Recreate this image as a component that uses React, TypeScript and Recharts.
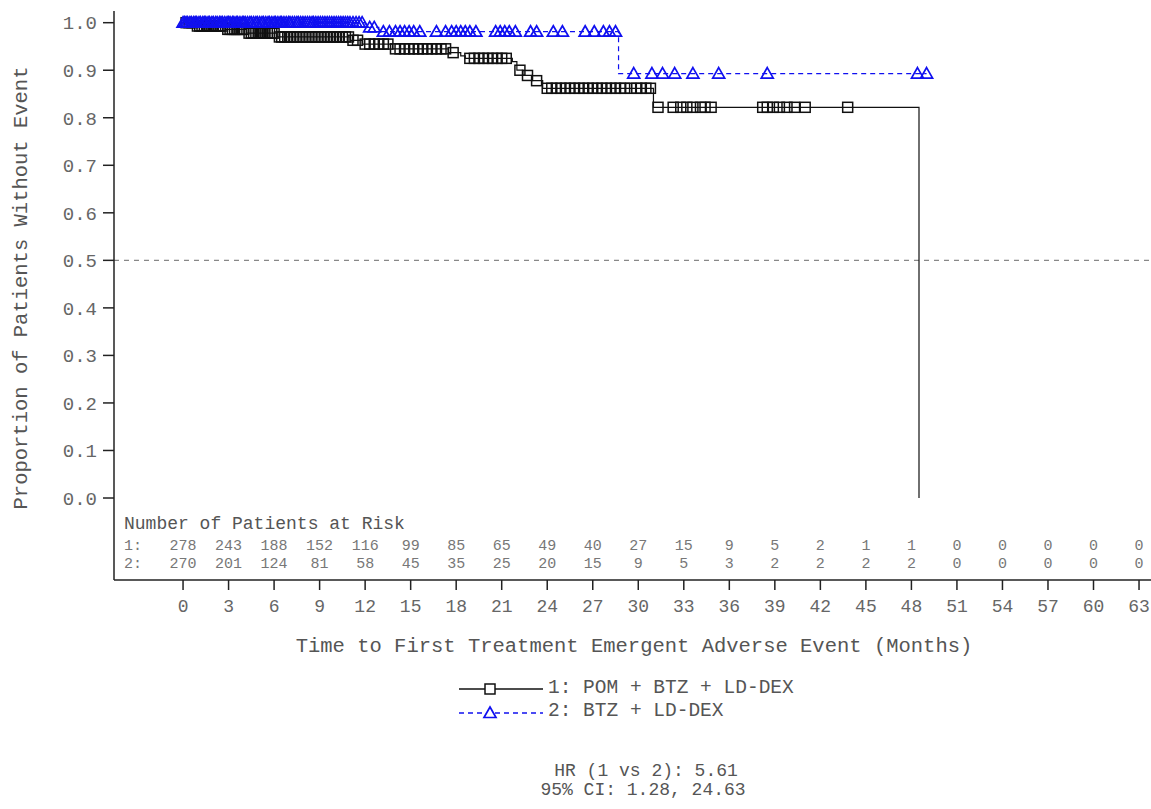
import { ComposedChart, Line, Scatter, XAxis, YAxis, ReferenceLine } from 'recharts';

// tick labels
const monthTicks = [0, 3, 6, 9, 12, 15, 18, 21, 24, 27, 30, 33, 36, 39, 42, 45, 48, 51, 54, 57, 60, 63];
const proportionTicks = [0, 0.1, 0.2, 0.3, 0.4, 0.5, 0.6, 0.7, 0.8, 0.9, 1.0];

// number of patients at risk at each month tick
const atRiskPom = [278, 243, 188, 152, 116, 99, 85, 65, 49, 40, 27, 15, 9, 5, 2, 1, 1, 0, 0, 0, 0, 0];
const atRiskBtz = [270, 201, 124, 81, 58, 45, 35, 25, 20, 15, 9, 5, 3, 2, 2, 2, 2, 0, 0, 0, 0, 0];

// 1: POM + BTZ + LD-DEX, event times and KM estimate after each
const pomTimes = [0, 0.8, 2.8, 4.2, 6.2, 11.0, 11.8, 13.8, 17.5, 18.3, 18.6, 21.7, 22.0, 22.4, 23.0, 23.7, 31.0, 48.5];
const pomSurvival = [1, 0.993, 0.986, 0.978, 0.97, 0.963, 0.955, 0.945, 0.937, 0.93, 0.925, 0.918, 0.9, 0.889, 0.878, 0.862, 0.822, 0];
const pomCensored = [
	0.2, 0.4, 0.6, 0.95, 1.1, 1.25, 1.4, 1.55, 1.7, 1.85, 2.0, 2.15, 2.3, 2.45, 2.6, 2.95, 3.1, 3.25, 3.4,
	3.55, 3.7, 3.85, 4.0, 4.35, 4.5, 4.65, 4.8, 4.95, 5.1, 5.25, 5.4, 5.55, 5.7, 5.85, 6.0, 6.35, 6.5, 6.7,
	6.9, 7.1, 7.3, 7.5, 7.7, 7.9, 8.1, 8.3, 8.5, 8.7, 8.9, 9.1, 9.3, 9.5, 9.7, 9.9, 10.1, 10.3, 10.5, 10.7,
	10.9, 11.2, 11.5, 12.0, 12.3, 12.6, 12.9, 13.2, 13.5, 14.0, 14.3, 14.6, 14.9, 15.2, 15.5, 15.8, 16.1,
	16.4, 16.7, 17.0, 17.3, 17.8, 18.9, 19.2, 19.5, 19.8, 20.1, 20.4, 20.7, 21.0, 21.3, 22.2, 22.7, 23.3,
	24.0, 24.3, 24.6, 24.9, 25.2, 25.5, 25.8, 26.1, 26.4, 26.7, 27.0, 27.3, 27.6, 27.9, 28.2, 28.5, 28.8,
	29.1, 29.5, 29.9, 30.2, 30.5, 30.8, 31.3, 32.3, 32.8, 33.2, 33.6, 34.1, 34.4, 34.8, 38.2, 38.5, 38.9,
	39.3, 39.8, 40.3, 41.0, 43.8,
];

// 2: BTZ + LD-DEX
const btzTimes = [0, 12.0, 12.9, 28.7];
const btzSurvival = [1, 0.99, 0.981, 0.893];
const btzCensored = [
	0.0, 0.1, 0.2, 0.3, 0.45, 0.55, 0.7, 0.8, 0.9, 1.05, 1.15, 1.3, 1.4, 1.5, 1.65, 1.75, 1.9, 2.0, 2.15,
	2.25, 2.4, 2.5, 2.6, 2.75, 2.9, 3.0, 3.1, 3.25, 3.35, 3.5, 3.6, 3.75, 3.9, 4.0, 4.1, 4.25, 4.4, 4.5,
	4.65, 4.8, 4.9, 5.05, 5.2, 5.3, 5.45, 5.6, 5.7, 5.85, 6.0, 6.1, 6.25, 6.4, 6.5, 6.65, 6.8, 6.95, 7.05,
	7.2, 7.35, 7.5, 7.6, 7.75, 7.9, 8.05, 8.2, 8.35, 8.5, 8.6, 8.75, 8.9, 9.05, 9.2, 9.35, 9.5, 9.65, 9.8,
	9.95, 10.1, 10.25, 10.4, 10.55, 10.7, 10.85, 11.0, 11.2, 11.4, 11.6, 11.8, 12.3, 12.6, 13.2, 13.6, 14.0,
	14.3, 14.6, 14.9, 15.2, 15.6, 16.7, 17.3, 17.7, 18.0, 18.3, 18.6, 18.9, 19.3, 20.6, 20.9, 21.2, 21.5,
	21.9, 22.9, 23.3, 24.4, 25.0, 26.5, 27.1, 27.7, 28.1, 28.5, 29.7, 30.9, 31.6, 32.4, 33.6, 35.3, 38.5,
	48.4, 49.0,
];

const survivalAt = (times: number[], values: number[], t: number) => {
	let s = values[0];
	times.forEach((tt, i) => {
		if (tt <= t) s = values[i];
	});
	return s;
};

const buildCurve = (times: number[], values: number[], censored: number[]) => {
	const pts = times.map((t, i) => ({ t, s: values[i], censored: false }));
	censored.forEach((t) => pts.push({ t, s: survivalAt(times, values, t), censored: true }));
	return pts.sort((a, b) => a.t - b.t);
};

const pomCurve = buildCurve(pomTimes, pomSurvival, pomCensored);
const btzCurve = buildCurve(btzTimes, btzSurvival, btzCensored);

const ROW1 = -0.101;
const ROW2 = -0.139;
const riskRows = [
	...monthTicks.map((t, i) => ({ t, y: ROW1, n: atRiskPom[i] })),
	...monthTicks.map((t, i) => ({ t, y: ROW2, n: atRiskBtz[i] })),
];

const FONT = '"Liberation Mono", "Courier New", monospace';
const TEXT = '#555';
const BLUE = '#1010f0';

const SquareDot = (p: any) =>
	p.payload.censored ? (
		<rect key={`sq-${p.index}`} x={p.cx - 5} y={p.cy - 5} width={10} height={10} fill='none' stroke='#111' strokeWidth={1.5} />
	) : (
		<g key={`sq-${p.index}`} />
	);

const TriangleDot = (p: any) =>
	p.payload.censored ? (
		<path
			key={`tr-${p.index}`}
			d={`M${p.cx},${p.cy - 6} L${p.cx + 6},${p.cy + 4.5} L${p.cx - 6},${p.cy + 4.5} Z`}
			fill='none'
			stroke={BLUE}
			strokeWidth={1.7}
		/>
	) : (
		<g key={`tr-${p.index}`} />
	);

const RiskNumber = (p: any) => (
	<text x={p.cx} y={p.cy} textAnchor='middle' dominantBaseline='central' fontFamily={FONT} fontSize={15} fill='#777'>
		{p.payload.n}
	</text>
);

const Txt = ({ x, y, size, children, anchor = 'left', color = TEXT }: any) => (
	<div
		style={{
			position: 'absolute',
			left: anchor === 'center' ? x - 400 : x,
			width: anchor === 'center' ? 800 : undefined,
			textAlign: anchor === 'center' ? 'center' : 'left',
			top: y - size / 2,
			fontSize: size,
			lineHeight: `${size}px`,
			fontFamily: FONT,
			color,
			whiteSpace: 'pre',
		}}
	>
		{children}
	</div>
);

const App = () => {
	return (
		<div style={{ position: 'absolute', left: 0, top: 0, width: 1151, height: 809, overflow: 'hidden', background: '#fff' }}>
			<ComposedChart width={1200} height={640} margin={{ top: 11, right: 20, bottom: 0, left: 0 }}>
				<XAxis
					xAxisId='top'
					orientation='top'
					type='number'
					dataKey='t'
					domain={[-4.55, 65.7]}
					height={0}
					tick={false}
					tickLine={false}
					axisLine={{ stroke: '#222', strokeWidth: 1.5 }}
				/>
				<XAxis
					type='number'
					dataKey='t'
					domain={[-4.55, 65.7]}
					allowDataOverflow
					ticks={monthTicks}
					interval={0}
					height={60}
					tickSize={10}
					tickMargin={9}
					tick={{ fontFamily: FONT, fontSize: 18, fill: '#666' }}
					tickLine={{ stroke: '#222', strokeWidth: 1.5 }}
					axisLine={{ stroke: '#222', strokeWidth: 1.5 }}
				/>
				<YAxis
					type='number'
					domain={[-0.1725, 1.0246]}
					allowDataOverflow
					ticks={proportionTicks}
					interval={0}
					width={114}
					tickSize={11}
					tickMargin={6}
					tickFormatter={(v: number) => v.toFixed(1)}
					tick={{ fontFamily: FONT, fontSize: 19, fill: '#666' }}
					tickLine={{ stroke: '#222', strokeWidth: 1.5 }}
					axisLine={{ stroke: '#222', strokeWidth: 1.5 }}
				/>
				<ReferenceLine y={0.5} stroke='#888' strokeDasharray='5 5' strokeWidth={1.2} />
				<Line
					data={pomCurve}
					dataKey='s'
					type='stepAfter'
					stroke='#111'
					strokeWidth={1.2}
					dot={SquareDot}
					activeDot={false}
					isAnimationActive={false}
				/>
				<Line
					data={btzCurve}
					dataKey='s'
					type='stepAfter'
					stroke={BLUE}
					strokeWidth={1.2}
					strokeDasharray='5 4'
					dot={TriangleDot}
					activeDot={false}
					isAnimationActive={false}
				/>
				<Scatter data={riskRows} dataKey='y' shape={RiskNumber} isAnimationActive={false} />
			</ComposedChart>

			<div
				style={{
					position: 'absolute',
					left: 22 - 300,
					top: 288 - 11,
					width: 600,
					height: 22,
					lineHeight: '22px',
					textAlign: 'center',
					transform: 'rotate(-90deg)',
					fontFamily: FONT,
					fontSize: 20.5,
					color: TEXT,
					whiteSpace: 'pre',
				}}
			>
				Proportion of Patients Without Event
			</div>

			<Txt x={124} y={524} size={18}>Number of Patients at Risk</Txt>
			<Txt x={124} y={546} size={15} color='#777'>1:</Txt>
			<Txt x={124} y={564} size={15} color='#777'>2:</Txt>

			<Txt x={634} y={647} size={20.5} anchor='center'>
				Time to First Treatment Emergent Adverse Event (Months)
			</Txt>

			<svg style={{ position: 'absolute', left: 459, top: 682 }} width={84} height={14}>
				<line x1={0} y1={7} x2={84} y2={7} stroke='#111' strokeWidth={1.3} />
				<rect x={26} y={2} width={10} height={10} fill='#fff' stroke='#111' strokeWidth={1.5} />
			</svg>
			<Txt x={548} y={689} size={19.5}>1: POM + BTZ + LD-DEX</Txt>
			<svg style={{ position: 'absolute', left: 459, top: 705 }} width={84} height={14}>
				<line x1={0} y1={8} x2={84} y2={8} stroke={BLUE} strokeWidth={1.3} strokeDasharray='5 4' />
				<path d='M31,2 L37,12.5 L25,12.5 Z' fill='#fff' stroke={BLUE} strokeWidth={1.7} />
			</svg>
			<Txt x={548} y={712} size={19.5}>2: BTZ + LD-DEX</Txt>

			<Txt x={646} y={771} size={18} anchor='center'>HR (1 vs 2): 5.61</Txt>
			<Txt x={643} y={790} size={18} anchor='center'>95% CI: 1.28, 24.63</Txt>
		</div>
	);
};

export default App;
